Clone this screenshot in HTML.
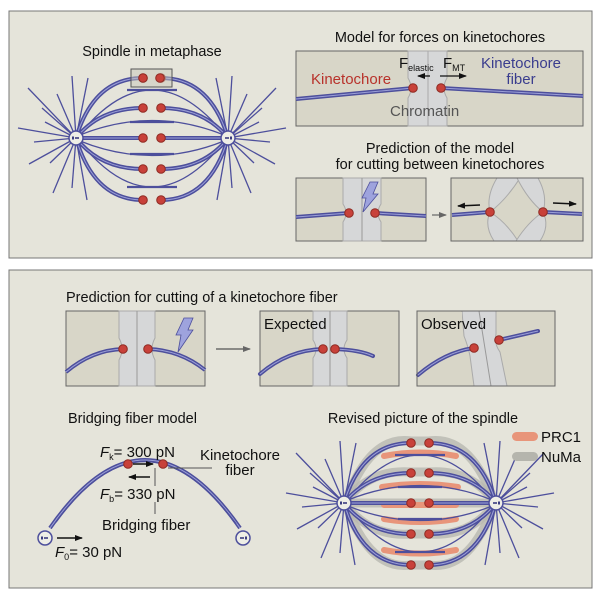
<!DOCTYPE html>
<html><head><meta charset="utf-8"><style>
html,body{margin:0;padding:0;background:#fff}
svg{display:block}
text{font-family:"Liberation Sans",sans-serif;fill:#111}
</style></head><body>
<svg width="600" height="600" viewBox="0 0 600 600" xmlns="http://www.w3.org/2000/svg">
<defs>
<marker id="ah" markerWidth="8" markerHeight="8" refX="7" refY="4" orient="auto" markerUnits="userSpaceOnUse"><path d="M0,1 L8,4 L0,7z" fill="#111"/></marker>
<marker id="ag" markerWidth="8" markerHeight="8" refX="7" refY="4" orient="auto" markerUnits="userSpaceOnUse"><path d="M0,1 L8,4 L0,7z" fill="#666"/></marker>
<g id="pole"><circle r="7" fill="#eeeee6" stroke="#4d4f9c" stroke-width="1.5"/><rect x="-4" y="-1.5" width="2" height="3" fill="#3a3c80"/><rect x="-1" y="-0.8" width="4" height="1.6" fill="#3a3c80"/></g>
<g id="kt"><circle r="4.3" fill="#c8413a" stroke="#8e2a22" stroke-width="1"/></g>
<g id="kf">
<path d="M-76,0 Q-58,-60 -9,-60 M-76,0 Q-52,-30 -9,-30 M-76,0 L-9,0 M-76,0 Q-52,31 -9,31 M-76,0 Q-58,62 -9,62" fill="none" stroke="#4d4f9c" stroke-width="4"/>
<path d="M-76,0 Q-58,-60 -9,-60 M-76,0 Q-52,-30 -9,-30 M-76,0 L-9,0 M-76,0 Q-52,31 -9,31 M-76,0 Q-58,62 -9,62" fill="none" stroke="#9ca0d8" stroke-width="1"/>
</g>
<g id="rays" stroke="#4d4f9c" stroke-width="1.3">
<line x1="-76" y1="0" x2="-124" y2="-50"/><line x1="-76" y1="0" x2="-134" y2="-10"/><line x1="-76" y1="0" x2="-123" y2="26"/><line x1="-76" y1="0" x2="-99" y2="55"/><line x1="-76" y1="0" x2="-80" y2="-62"/><line x1="-76" y1="0" x2="-64" y2="-60"/><line x1="-76" y1="0" x2="-95" y2="-44"/><line x1="-76" y1="0" x2="-107" y2="-16"/><line x1="-76" y1="0" x2="-102" y2="25"/><line x1="-76" y1="0" x2="-80" y2="50"/><line x1="-76" y1="0" x2="-65" y2="62"/><line x1="-76" y1="0" x2="-118" y2="4"/><line x1="-76" y1="0" x2="-110" y2="-30"/>
</g>
<g id="half">
<use href="#rays"/><use href="#kf"/>
<use href="#pole" x="-76" y="0"/>
<use href="#kt" x="-9" y="-60"/><use href="#kt" x="-9" y="-30"/><use href="#kt" x="-9" y="0"/><use href="#kt" x="-9" y="31"/><use href="#kt" x="-9" y="62"/>
</g>
<g id="bridge" fill="none" stroke="#4d4f9c" stroke-width="1.3">
<path d="M-72,-4 Q0,-92 72,-4 M-72,-3 Q0,-32 72,-3 M-72,3 Q0,32 72,3 M-72,4 Q0,94 72,4"/>
<path d="M-25,-48 L25,-48 M-22,-16 L22,-16 M-22,16 L22,16 M-25,49 L25,49" stroke-width="2.2"/>
</g>
<g id="spindle">
<use href="#bridge"/><use href="#half"/><use href="#half" transform="scale(-1,1)"/>
</g>
</defs>

<rect width="600" height="600" fill="#ffffff"/>
<rect x="9" y="11" width="583" height="247" fill="#e5e4da" stroke="#777" stroke-width="1"/>
<rect x="9" y="270" width="583" height="318" fill="#e5e4da" stroke="#777" stroke-width="1"/>

<text x="152" y="56" font-size="14.5" text-anchor="middle">Spindle in metaphase</text>
<g transform="translate(152,138)"><use href="#spindle"/></g>
<rect x="131" y="69" width="41" height="18" fill="#c9c7ba" fill-opacity="0.5" stroke="#555" stroke-width="1"/>
<use href="#kt" x="143" y="78"/><use href="#kt" x="160" y="78"/>

<text x="440" y="42" font-size="14.5" text-anchor="middle">Model for forces on kinetochores</text>
<rect x="296" y="51" width="287" height="75" fill="#d8d6c8" stroke="#666"/>
<path d="M408,51 L447,51 L447,78 Q441,88 447,98 L447,126 L408,126 L408,98 Q414,88 408,78z" fill="#d6d7d8" stroke="#aaa"/>
<line x1="428" y1="51" x2="428" y2="126" stroke="#aaa"/>
<path d="M296,99 L413,88 M441,88 L583,96" stroke="#4d4f9c" stroke-width="4" fill="none"/>
<path d="M296,99 L413,88 M441,88 L583,96" stroke="#9ca0d8" stroke-width="1" fill="none"/>
<use href="#kt" x="413" y="88"/><use href="#kt" x="441" y="88"/>
<text x="311" y="84" font-size="15" style="fill:#b8322b">Kinetochore</text>
<text x="521" y="68" font-size="15" text-anchor="middle" style="fill:#3a3d8e">Kinetochore</text>
<text x="521" y="84" font-size="15" text-anchor="middle" style="fill:#3a3d8e">fiber</text>
<text x="390" y="116" font-size="15" style="fill:#555">Chromatin</text>
<text x="399" y="68" font-size="15">F<tspan font-size="9" dy="3">elastic</tspan></text>
<text x="443" y="68" font-size="15">F<tspan font-size="9" dy="3">MT</tspan></text>
<line x1="430" y1="76" x2="418" y2="76" stroke="#111" stroke-width="1.3" marker-end="url(#ah)"/>
<line x1="440" y1="76" x2="466" y2="76" stroke="#111" stroke-width="1.3" marker-end="url(#ah)"/>

<text x="440" y="153" font-size="14.5" text-anchor="middle">Prediction of the model</text>
<text x="440" y="169" font-size="14.5" text-anchor="middle">for cutting between kinetochores</text>
<rect x="296" y="178" width="130" height="63" fill="#d8d6c8" stroke="#666"/>
<path d="M343,178 L381,178 L381,204 Q375,213 381,222 L381,241 L343,241 L343,222 Q349,213 343,204z" fill="#d6d7d8" stroke="#aaa"/>
<line x1="362" y1="178" x2="362" y2="241" stroke="#999"/>
<path d="M296,217 L349,213 M375,213 L426,216" stroke="#4d4f9c" stroke-width="4" fill="none"/>
<path d="M296,217 L349,213 M375,213 L426,216" stroke="#9ca0d8" stroke-width="1" fill="none"/>
<use href="#kt" x="349" y="213"/><use href="#kt" x="375" y="213"/>
<path d="M370,182 L378,182 L373,194 L378,194 L363,212 L366,198 L362,198z" fill="#9ea3dd" stroke="#4d4f9c" stroke-width="0.8"/>
<line x1="432" y1="215" x2="446" y2="215" stroke="#666" stroke-width="1.2" marker-end="url(#ag)"/>
<rect x="451" y="178" width="132" height="63" fill="#d8d6c8" stroke="#666"/>
<g fill="#d6d7d8" stroke="#aaa" stroke-width="1">
<path d="M497,178 L520,178 Q506,200 490,212 Q486,196 497,178z"/>
<path d="M517,178 L538,178 Q548,196 543,212 Q528,200 517,178z"/>
<path d="M490,212 Q506,222 518,241 L494,241 Q484,226 490,212z"/>
<path d="M543,212 Q528,222 516,241 L540,241 Q550,226 543,212z"/>
</g>
<rect x="451" y="178" width="132" height="63" fill="none" stroke="#666"/>
<path d="M452,215 L490,212 M543,212 L582,214" stroke="#4d4f9c" stroke-width="4" fill="none"/>
<path d="M452,215 L490,212 M543,212 L582,214" stroke="#9ca0d8" stroke-width="1" fill="none"/>
<use href="#kt" x="490" y="212"/><use href="#kt" x="543" y="212"/>
<line x1="480" y1="205" x2="458" y2="206" stroke="#111" stroke-width="1.4" marker-end="url(#ah)"/>
<line x1="553" y1="203" x2="576" y2="204" stroke="#111" stroke-width="1.4" marker-end="url(#ah)"/>

<text x="66" y="302" font-size="14.5">Prediction for cutting of a kinetochore fiber</text>
<rect x="66" y="311" width="139" height="75" fill="#d8d6c8" stroke="#666"/>
<path d="M119,311 L155,311 L155,338 Q149,349 155,360 L155,386 L119,386 L119,360 Q125,349 119,338z" fill="#d6d7d8" stroke="#aaa"/>
<line x1="137" y1="311" x2="137" y2="386" stroke="#999"/>
<path d="M66,372 Q92,350 123,349 M148,349 Q180,350 205,370" fill="none" stroke="#4d4f9c" stroke-width="4"/>
<path d="M66,372 Q92,350 123,349 M148,349 Q180,350 205,370" fill="none" stroke="#9ca0d8" stroke-width="1"/>
<use href="#kt" x="123" y="349"/><use href="#kt" x="148" y="349"/>
<path d="M184,318 L193,318 L188,330 L193,330 L178,352 L181,335 L176,335z" fill="#9ea3dd" stroke="#4d4f9c" stroke-width="0.8"/>
<line x1="216" y1="349" x2="250" y2="349" stroke="#555" stroke-width="1.2" marker-end="url(#ag)"/>

<rect x="260" y="311" width="139" height="75" fill="#d8d6c8" stroke="#666"/>
<path d="M313,311 L347,311 L347,340 Q341,349 347,358 L347,386 L313,386 L313,358 Q319,349 313,340z" fill="#d6d7d8" stroke="#aaa"/>
<line x1="330" y1="311" x2="330" y2="386" stroke="#999"/>
<path d="M260,374 Q288,350 323,349 M335,349 Q360,350 373,356" fill="none" stroke="#4d4f9c" stroke-width="4" stroke-linecap="round"/>
<path d="M260,374 Q288,350 323,349 M335,349 Q360,350 373,356" fill="none" stroke="#9ca0d8" stroke-width="1"/>
<use href="#kt" x="323" y="349"/><use href="#kt" x="335" y="349"/>
<rect x="261" y="312" width="50" height="18" fill="#d8d6c8"/>
<text x="264" y="329" font-size="15">Expected</text>

<rect x="417" y="311" width="138" height="75" fill="#d8d6c8" stroke="#666"/>
<path d="M462,311 L496,311 L496,334 Q494,344 500,352 L507,386 L474,386 L470,356 Q468,346 464,336z" fill="#d6d7d8" stroke="#aaa"/>
<line x1="479" y1="311" x2="491" y2="386" stroke="#999"/>
<path d="M418,375 Q445,352 474,348 M499,340 L538,331" fill="none" stroke="#4d4f9c" stroke-width="4" stroke-linecap="round"/>
<path d="M418,375 Q445,352 474,348 M499,340 L538,331" fill="none" stroke="#9ca0d8" stroke-width="1"/>
<use href="#kt" x="474" y="348"/><use href="#kt" x="499" y="340"/>
<rect x="418" y="312" width="44" height="18" fill="#d8d6c8"/>
<text x="421" y="329" font-size="15">Observed</text>
<rect x="417" y="311" width="138" height="75" fill="none" stroke="#666"/>

<text x="68" y="423" font-size="14.5">Bridging fiber model</text>
<path d="M50,528 Q145,392 240,528" fill="none" stroke="#4d4f9c" stroke-width="4"/>
<path d="M50,528 Q145,392 240,528" fill="none" stroke="#9ca0d8" stroke-width="1"/>
<path d="M56,522 Q145,400 236,524" fill="none" stroke="#4d4f9c" stroke-width="1.5"/>
<use href="#pole" x="45" y="538"/><use href="#pole" x="243" y="538" transform="rotate(180 243 538)"/>
<use href="#kt" x="128" y="464"/><use href="#kt" x="163" y="464"/>
<line x1="133" y1="464" x2="153" y2="464" stroke="#111" stroke-width="1.6" marker-end="url(#ah)"/>
<line x1="150" y1="477" x2="129" y2="477" stroke="#111" stroke-width="1.6" marker-end="url(#ah)"/>
<line x1="155" y1="468" x2="155" y2="486" stroke="#555"/>
<line x1="155" y1="502" x2="155" y2="514" stroke="#555"/>
<line x1="168" y1="468" x2="212" y2="468" stroke="#555"/>
<text x="100" y="457" font-size="15"><tspan font-style="italic">F</tspan><tspan font-size="9" dy="3">k</tspan><tspan dy="-3">= 300 pN</tspan></text>
<text x="100" y="499" font-size="15"><tspan font-style="italic">F</tspan><tspan font-size="9" dy="3">b</tspan><tspan dy="-3">= 330 pN</tspan></text>
<text x="102" y="530" font-size="15">Bridging fiber</text>
<text x="240" y="460" font-size="15" text-anchor="middle">Kinetochore</text>
<text x="240" y="475" font-size="15" text-anchor="middle">fiber</text>
<line x1="57" y1="538" x2="82" y2="538" stroke="#111" stroke-width="1.6" marker-end="url(#ah)"/>
<text x="55" y="557" font-size="15"><tspan font-style="italic">F</tspan><tspan font-size="9" dy="3">0</tspan><tspan dy="-3">= 30 pN</tspan></text>

<text x="423" y="423" font-size="14.5" text-anchor="middle">Revised picture of the spindle</text>
<g transform="translate(420,503)">
<g fill="none" stroke="#b8b8b0" stroke-width="9" stroke-opacity="0.8">
<path d="M-74,-2 Q-50,-68 -9,-62 L9,-62 Q50,-68 74,-2"/>
<path d="M-74,-2 Q-50,-34 -9,-31 L9,-31 Q50,-34 74,-2"/>
<path d="M-74,0 L74,0"/>
<path d="M-74,2 Q-50,34 -9,31 L9,31 Q50,34 74,2"/>
<path d="M-74,2 Q-50,68 -9,62 L9,62 Q50,68 74,2"/>
</g>
<g fill="none" stroke="#e8957a" stroke-width="6" stroke-linecap="round">
<path d="M-36,-47 Q0,-54 36,-47"/><path d="M-38,-16 Q0,-22 38,-16"/><path d="M-36,2 L36,2"/><path d="M-36,16 Q0,22 36,16"/><path d="M-36,47 Q0,54 36,47"/>
</g>
<use href="#spindle"/>
</g>
<rect x="512" y="432" width="26" height="9" rx="4.5" fill="#e8957a"/>
<rect x="512" y="452" width="26" height="9" rx="4.5" fill="#b5b5ad"/>
<text x="541" y="442" font-size="15">PRC1</text>
<text x="541" y="462" font-size="15">NuMa</text>
</svg>
</body></html>
